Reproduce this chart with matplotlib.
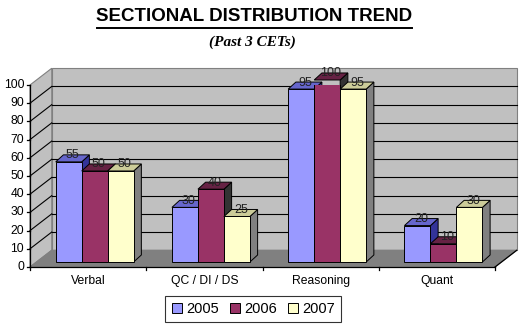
import numpy as np
import matplotlib.pyplot as plt
from matplotlib.patches import Polygon
from matplotlib.lines import Line2D

categories = ["Verbal", "QC / DI / DS", "Reasoning", "Quant"]
years = ["2005", "2006", "2007"]
v2005 = [55, 30, 95, 20]
v2006 = [50, 40, 100, 10]
v2007 = [50, 25, 95, 30]
series = [v2005, v2006, v2007]
yticks = [0, 10, 20, 30, 40, 50, 60, 70, 80, 90, 100]

front = ["#9999FF", "#993366", "#FFFFCC"]
top = ["#6666CC", "#662244", "#CCCC99"]
side = ["#333399", "#333333", "#808080"]

plt.rcParams["font.family"] = ["Liberation Sans", "DejaVu Sans"]

fig = plt.figure(figsize=(5.23, 3.31), dpi=100)
W, H = 523, 331
ax = fig.add_axes([30 / W, 1 - 267 / H, 465 / W, 182 / H])
ax.set_xlim(0, 4)
ax.set_ylim(0, 100)
ax.axis("off")

# depth of the chart box and of each bar (data units)
dx, dy = 0.187, 9.2
f = 0.3
bdx, bdy = 0.066, 3.85
w = 0.2236
n = len(categories)

def poly(pts, fc, ec="none", lw=0.8, z=1):
    ax.add_patch(Polygon(pts, closed=True, facecolor=fc, edgecolor=ec,
                         linewidth=lw, zorder=z, clip_on=False))

# walls and floor
poly([(dx, dy), (n + dx, dy), (n + dx, 100 + dy), (dx, 100 + dy)], "#C0C0C0", "#808080", z=1)
poly([(0, 0), (0, 100), (dx, 100 + dy), (dx, dy)], "#C0C0C0", "#808080", z=1)
poly([(0, 0), (n, 0), (n + dx, dy), (dx, dy)], "#808080", "#808080", z=1)

# gridlines on back wall and left wall
for t in yticks[1:-1]:
    ax.plot([dx, n + dx], [t + dy, t + dy], color="black", lw=0.8, zorder=2, clip_on=False)
    ax.plot([0, dx], [t, t + dy], color="black", lw=0.8, zorder=2, clip_on=False)

# axes lines and ticks
ax.plot([0, 0], [0, 100], color="black", lw=0.9, zorder=2, clip_on=False)
ax.plot([0, n], [0, 0], color="black", lw=0.9, zorder=2, clip_on=False)
ax.plot([n, n + dx], [0, dy], color="black", lw=0.9, zorder=2, clip_on=False)
for t in yticks:
    ax.plot([-0.025, 0], [t, t], color="black", lw=0.9, clip_on=False)
    ax.text(-0.05, t, str(t), ha="right", va="center", fontsize=8.7)
for i in range(n + 1):
    ax.plot([i, i], [0, -1.8], color="black", lw=0.9, clip_on=False)
for i, c in enumerate(categories):
    ax.text(i + 0.5, -7.5, c, ha="center", va="center", fontsize=8.7)

# 3d bars
z = 3
b = f * dy
for i in range(n):
    for j, vals in enumerate(series):
        v = vals[i]
        x0 = i + 0.165 + j * w + f * dx
        poly([(x0 + w, b), (x0 + w, b + v), (x0 + w + bdx, b + v + bdy),
              (x0 + w + bdx, b + bdy)], side[j], "black", 0.7, z)
        poly([(x0, b + v), (x0 + w, b + v), (x0 + w + bdx, b + v + bdy),
              (x0 + bdx, b + v + bdy)], top[j], "black", 0.7, z)
        ax.bar(x0, v, width=w, bottom=b, align="edge", color=front[j],
               edgecolor="black", linewidth=0.7, zorder=z + 0.5)
        z += 1

for i in range(n):
    for j, vals in enumerate(series):
        v = vals[i]
        x0 = i + 0.165 + j * w + f * dx
        ax.text(x0 + w / 2 + bdx / 2, b + v + 3.6, str(v), ha="center",
                va="center", fontsize=9, color="#222222", zorder=50)

# titles
fig.text(254.5 / W, 1 - 16.5 / H, "SECTIONAL DISTRIBUTION TREND", ha="center",
         va="center", fontsize=13.5, fontweight="bold")
fig.add_artist(Line2D([97 / W, 412 / W], [1 - 27.5 / H, 1 - 27.5 / H],
                      color="black", lw=1.4))
fig.text(252.5 / W, 1 - 42.5 / H, "(Past 3 CETs)", ha="center", va="center",
         fontsize=11, fontstyle="italic", fontweight="bold",
         family=["Liberation Serif", "DejaVu Serif"])

handles = [Line2D([], [], marker="s", ls="none", markersize=7.5,
                  markerfacecolor=front[j], markeredgecolor="black",
                  markeredgewidth=0.7) for j in range(3)]
leg = fig.legend(handles, years, loc="center", bbox_to_anchor=(253 / W, 1 - 309 / H),
                 ncol=3, fontsize=10.5, frameon=True, fancybox=False,
                 handlelength=0.8, handletextpad=0.25, columnspacing=0.7,
                 borderpad=0.4, borderaxespad=0)
leg.get_frame().set_edgecolor("black")
leg.get_frame().set_linewidth(0.8)

fig.savefig("out.png", dpi=100, facecolor="white")
